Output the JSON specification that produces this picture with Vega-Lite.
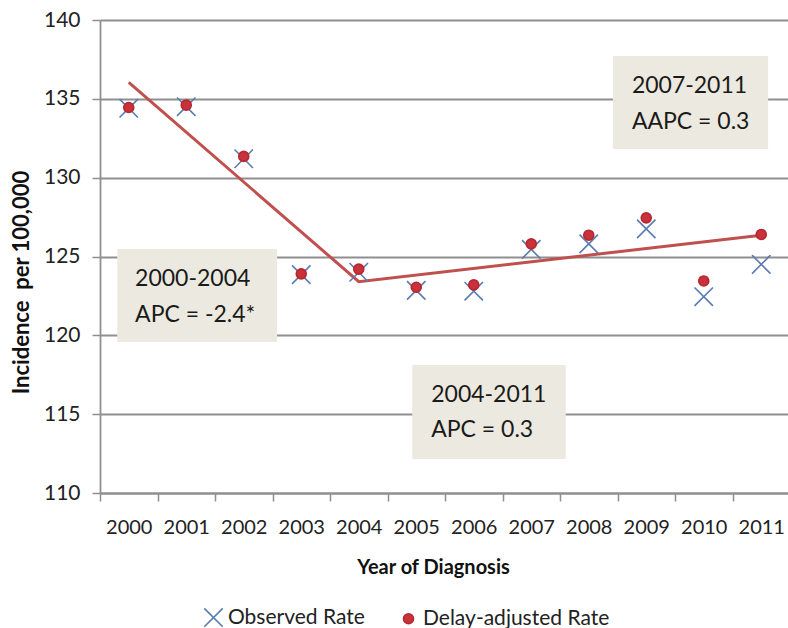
{
  "$schema": "https://vega.github.io/schema/vega-lite/v6.json",
  "width": 690,
  "height": 473,
  "autosize": {"type": "none"},
  "padding": {"left": 100, "top": 20, "right": 0, "bottom": 135},
  "background": "white",
  "config": {
    "font": "Lato",
    "view": {"stroke": null},
    "axis": {"labelColor": "#222222", "titleColor": "#111111", "labelFont": "Lato", "titleFont": "Lato"}
  },
  "datasets": {
    "rates": [
      {"year": 2000, "series": "Observed Rate", "rate": 134.4},
      {"year": 2001, "series": "Observed Rate", "rate": 134.5},
      {"year": 2002, "series": "Observed Rate", "rate": 131.2},
      {"year": 2003, "series": "Observed Rate", "rate": 123.85},
      {"year": 2004, "series": "Observed Rate", "rate": 124.0},
      {"year": 2005, "series": "Observed Rate", "rate": 122.85},
      {"year": 2006, "series": "Observed Rate", "rate": 122.8},
      {"year": 2007, "series": "Observed Rate", "rate": 125.45},
      {"year": 2008, "series": "Observed Rate", "rate": 125.8},
      {"year": 2009, "series": "Observed Rate", "rate": 126.75},
      {"year": 2010, "series": "Observed Rate", "rate": 122.45},
      {"year": 2011, "series": "Observed Rate", "rate": 124.5},
      {"year": 2000, "series": "Delay-adjusted Rate", "rate": 134.45},
      {"year": 2001, "series": "Delay-adjusted Rate", "rate": 134.6},
      {"year": 2002, "series": "Delay-adjusted Rate", "rate": 131.35},
      {"year": 2003, "series": "Delay-adjusted Rate", "rate": 123.9},
      {"year": 2004, "series": "Delay-adjusted Rate", "rate": 124.2},
      {"year": 2005, "series": "Delay-adjusted Rate", "rate": 123.05},
      {"year": 2006, "series": "Delay-adjusted Rate", "rate": 123.2},
      {"year": 2007, "series": "Delay-adjusted Rate", "rate": 125.8},
      {"year": 2008, "series": "Delay-adjusted Rate", "rate": 126.35},
      {"year": 2009, "series": "Delay-adjusted Rate", "rate": 127.45},
      {"year": 2010, "series": "Delay-adjusted Rate", "rate": 123.45},
      {"year": 2011, "series": "Delay-adjusted Rate", "rate": 126.4}
    ],
    "trend": [
      {"year": 2000, "fit": 136.05},
      {"year": 2004, "fit": 123.4},
      {"year": 2011, "fit": 126.35}
    ]
  },
  "layer": [
    {
      "data": {"values": [{"label": "2000-2004\nAPC = -2.4*"}]},
      "layer": [
        {
          "mark": {"type": "rect", "fill": "#eceae0"},
          "encoding": {
            "x": {"datum": 1999.8, "type": "quantitative"},
            "x2": {"datum": 2002.58},
            "y": {"datum": 125.48, "type": "quantitative"},
            "y2": {"datum": 119.58}
          }
        },
        {
          "mark": {"type": "text", "align": "left", "baseline": "middle", "lineBreak": "\n", "lineHeight": 36, "fontSize": 23, "font": "Lato", "color": "#1a1a1a"},
          "encoding": {
            "x": {"datum": 2000.11, "type": "quantitative"},
            "y": {"datum": 123.58, "type": "quantitative"},
            "text": {"field": "label"}
          }
        }
      ]
    },
    {
      "data": {"values": [{"label": "2004-2011\nAPC = 0.3"}]},
      "layer": [
        {
          "mark": {"type": "rect", "fill": "#eceae0"},
          "encoding": {
            "x": {"datum": 2004.93, "type": "quantitative"},
            "x2": {"datum": 2007.6},
            "y": {"datum": 118.12, "type": "quantitative"},
            "y2": {"datum": 112.16}
          }
        },
        {
          "mark": {"type": "text", "align": "left", "baseline": "middle", "lineBreak": "\n", "lineHeight": 35, "fontSize": 23, "font": "Lato", "color": "#1a1a1a"},
          "encoding": {
            "x": {"datum": 2005.26, "type": "quantitative"},
            "y": {"datum": 116.22, "type": "quantitative"},
            "text": {"field": "label"}
          }
        }
      ]
    },
    {
      "data": {"values": [{"label": "2007-2011\nAAPC = 0.3"}]},
      "layer": [
        {
          "mark": {"type": "rect", "fill": "#eceae0"},
          "encoding": {
            "x": {"datum": 2008.42, "type": "quantitative"},
            "x2": {"datum": 2011.12},
            "y": {"datum": 137.72, "type": "quantitative"},
            "y2": {"datum": 131.82}
          }
        },
        {
          "mark": {"type": "text", "align": "left", "baseline": "middle", "lineBreak": "\n", "lineHeight": 36, "fontSize": 23, "font": "Lato", "color": "#1a1a1a"},
          "encoding": {
            "x": {"datum": 2008.75, "type": "quantitative"},
            "y": {"datum": 135.81, "type": "quantitative"},
            "text": {"field": "label"}
          }
        }
      ]
    },
    {
      "data": {"name": "trend"},
      "mark": {"type": "line", "color": "#c0504d", "strokeWidth": 3},
      "encoding": {
        "x": {"field": "year", "type": "quantitative"},
        "y": {"field": "fit", "type": "quantitative"}
      }
    },
    {
      "data": {"name": "rates"},
      "mark": {"type": "point", "filled": true, "strokeWidth": 1.6, "opacity": 1},
      "encoding": {
        "x": {
          "field": "year",
          "type": "quantitative",
          "scale": {"domain": [1999.5, 2011.5], "nice": false, "zero": false},
          "axis": {
            "values": [2000, 2001, 2002, 2003, 2004, 2005, 2006, 2007, 2008, 2009, 2010, 2011],
            "format": "d",
            "tickOffset": -28.75,
            "labelOffset": 28.75,
            "labelOverlap": false,
            "labelBound": false,
            "labelFlush": false,
            "labelFontSize": 20,
            "labelPadding": 16,
            "grid": false,
            "domainColor": "#8f8f8f",
            "domainWidth": 1.8,
            "tickColor": "#8f8f8f",
            "tickWidth": 1.5,
            "tickSize": 8,
            "title": "Year of Diagnosis",
            "titleFontSize": 20,
            "titleFontWeight": "bold",
            "titleX": 333,
            "titleY": 74,
            "titleBaseline": "middle",
            "titleAlign": "center"
          }
        },
        "y": {
          "field": "rate",
          "type": "quantitative",
          "scale": {"domain": [110, 140], "nice": false, "zero": false},
          "axis": {
            "values": [110, 115, 120, 125, 130, 135, 140],
            "labelFontSize": 21,
            "labelPadding": 12,
            "grid": true,
            "gridColor": "#8f8f8f",
            "gridWidth": 1.8,
            "domainColor": "#8f8f8f",
            "domainWidth": 1.8,
            "tickColor": "#8f8f8f",
            "tickWidth": 1.5,
            "tickSize": 8,
            "title": "Incidence\u00a0 per 100,000",
            "titleFontSize": 22,
            "titleFontWeight": "bold",
            "titleX": -79,
            "titleY": 262,
            "titleAngle": -90,
            "titleBaseline": "middle",
            "titleAlign": "center"
          }
        },
        "shape": {
          "field": "series",
          "type": "nominal",
          "scale": {"domain": ["Observed Rate", "Delay-adjusted Rate"], "range": ["M-1,-1L1,1M-1,1L1,-1", "circle"]},
          "legend": {
            "orient": "none",
            "legendX": 103,
            "legendY": 587,
            "direction": "horizontal",
            "title": null,
            "padding": 0,
            "labelFontSize": 21,
            "labelFont": "Lato",
            "labelColor": "#222222",
            "labelOffset": 4,
            "labelLimit": 0,
            "columnPadding": 33,
            "symbolStrokeWidth": 1.6
          }
        },
        "fill": {
          "field": "series",
          "type": "nominal",
          "scale": {"domain": ["Observed Rate", "Delay-adjusted Rate"], "range": ["transparent", "#c8323a"]}
        },
        "stroke": {
          "field": "series",
          "type": "nominal",
          "scale": {"domain": ["Observed Rate", "Delay-adjusted Rate"], "range": ["#5a7cb0", "#b8272f"]}
        },
        "size": {
          "field": "series",
          "type": "nominal",
          "scale": {"domain": ["Observed Rate", "Delay-adjusted Rate"], "range": [340, 100]}
        }
      }
    }
  ]
}
